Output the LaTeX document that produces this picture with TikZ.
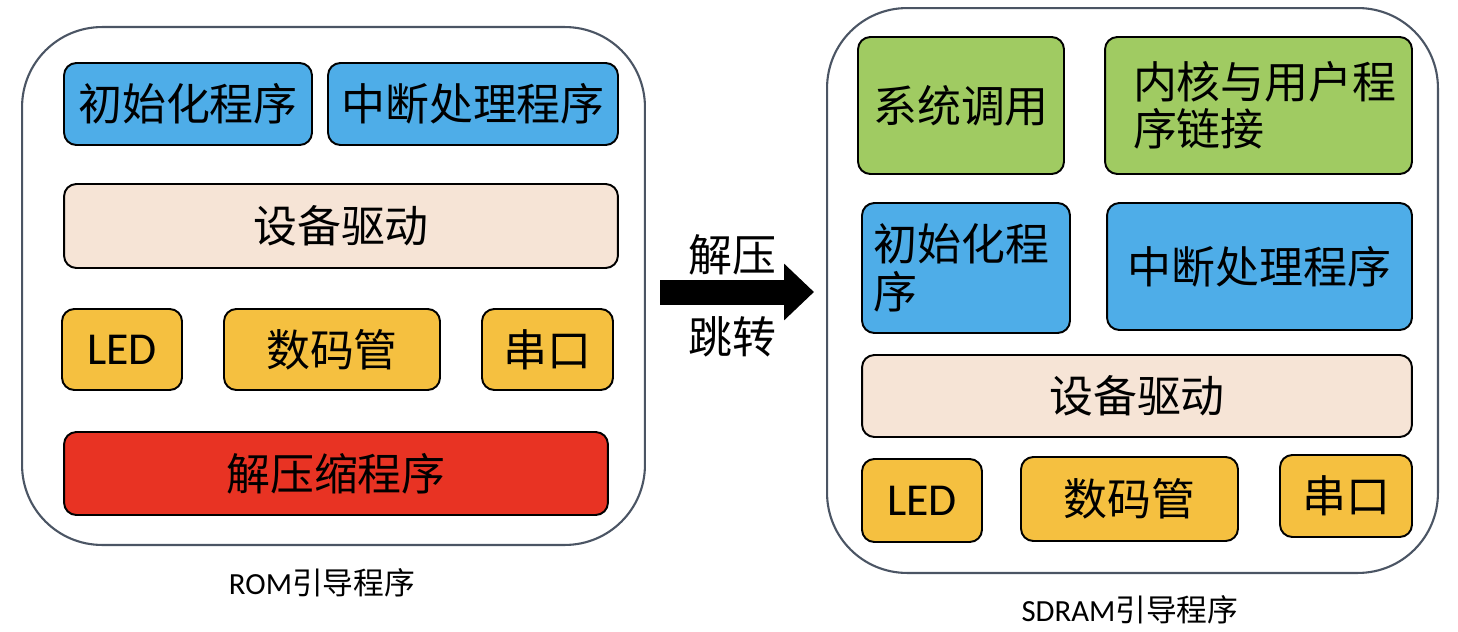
\documentclass[tikz,border=0pt]{standalone}
\usepackage{fontspec}
\setmainfont{Carlito}
\newfontfamily\cjk{Noto Sans CJK SC}
\usepackage{tikz}
\usetikzlibrary{arrows.meta,positioning,calc}
\definecolor{blocbleu}{HTML}{4EADE8}
\definecolor{blocvert}{HTML}{A0CB62}
\definecolor{blocpeche}{HTML}{F6E4D6}
\definecolor{blocjaune}{HTML}{F5C040}
\definecolor{blocrouge}{HTML}{E83323}
\definecolor{cadre}{HTML}{4B5564}
\tikzset{
  bloc/.style={rectangle, rounded corners=7pt, draw=black, line width=1.1pt, fill=#1,
               align=center, inner sep=0pt, font=\cjk\fontsize{25}{27}\selectfont},
  latin/.style={font=\fontsize{26}{28}\selectfont},
  cadreboot/.style={rectangle, rounded corners=1.6cm, draw=cadre, line width=1.2pt, inner sep=0pt},
  legende/.style={font=\fontsize{17.5}{19}\selectfont},
  fleche/.style={-{Triangle[length=0.6cm, width=1.1cm]}, line width=0.5cm, draw=black},
}
\begin{document}
\begin{tikzpicture}[x=0.02cm, y=-0.02cm]
  \useasboundingbox (0,0) rectangle (1458,632);
  % ROM
  \node[cadreboot, minimum width=12.46cm, minimum height=10.36cm] (rom) at (333.5,286) {};
  \node[bloc=blocbleu, minimum width=4.96cm, minimum height=1.64cm] (linit) at (188,104) {初始化程序};
  \node[bloc=blocbleu, minimum width=5.8cm, minimum height=1.64cm] (lirq) at (473,104) {中断处理程序};
  \node[bloc=blocpeche, minimum width=11.08cm, minimum height=1.68cm] (ldrv) at (341,226) {设备驱动};
  \node[bloc=blocjaune, latin, minimum width=2.4cm, minimum height=1.62cm] (lled) at (122,349.5) {LED};
  \node[bloc=blocjaune, minimum width=4.32cm, minimum height=1.62cm] (lseg) at (332,349.5) {数码管};
  \node[bloc=blocjaune, minimum width=2.62cm, minimum height=1.62cm] (luart) at (547.5,349.5) {串口};
  \node[bloc=blocrouge, minimum width=10.88cm, minimum height=1.66cm] (ldec) at (336,473.5) {解压缩程序};
  \node[legende] (romcap) at (322,583) {ROM{\cjk 引导程序}};
  % SDRAM
  \node[cadreboot, minimum width=12.22cm, minimum height=11.3cm] (sdram) at (1132.5,290.5) {};
  \node[bloc=blocvert, minimum width=4.12cm, minimum height=2.74cm] (rsys) at (961,105.5) {系统调用};
  \node[bloc=blocvert, align=left, text width=5.5cm, minimum width=6.14cm, minimum height=2.74cm] (rlink) at (1258.5,105.5)
    {\hspace*{0.24cm}内核与用户程\\\hspace*{0.24cm}序链接};
  \node[bloc=blocbleu, align=left, text width=3.7cm, minimum width=4.16cm, minimum height=2.6cm] (rinit) at (966,268)
    {初始化程\\序};
  \node[bloc=blocbleu, minimum width=6.1cm, minimum height=2.54cm] (rirq) at (1259.5,266.5) {中断处理程序};
  \node[bloc=blocpeche, minimum width=11cm, minimum height=1.64cm] (rdrv) at (1137,396) {设备驱动};
  \node[bloc=blocjaune, latin, minimum width=2.4cm, minimum height=1.66cm] (rled) at (922,500.5) {LED};
  \node[bloc=blocjaune, minimum width=4.34cm, minimum height=1.68cm] (rseg) at (1129.5,499) {数码管};
  \node[bloc=blocjaune, minimum width=2.64cm, minimum height=1.64cm] (ruart) at (1346,496) {串口};
  \node[legende] (sdramcap) at (1130,610) {SDRAM{\cjk 引导程序}};
  % saut
  \coordinate (saut) at (660,292);
  \draw[fleche, shorten >=0.24cm] (saut) -- (saut -| sdram.west);
  \node[font=\cjk\fontsize{25}{27}\selectfont] (decomp) at (732,255) {解压};
  \node[font=\cjk\fontsize{25}{27}\selectfont] (jump) at (732,337) {跳转};
\end{tikzpicture}
\end{document}
